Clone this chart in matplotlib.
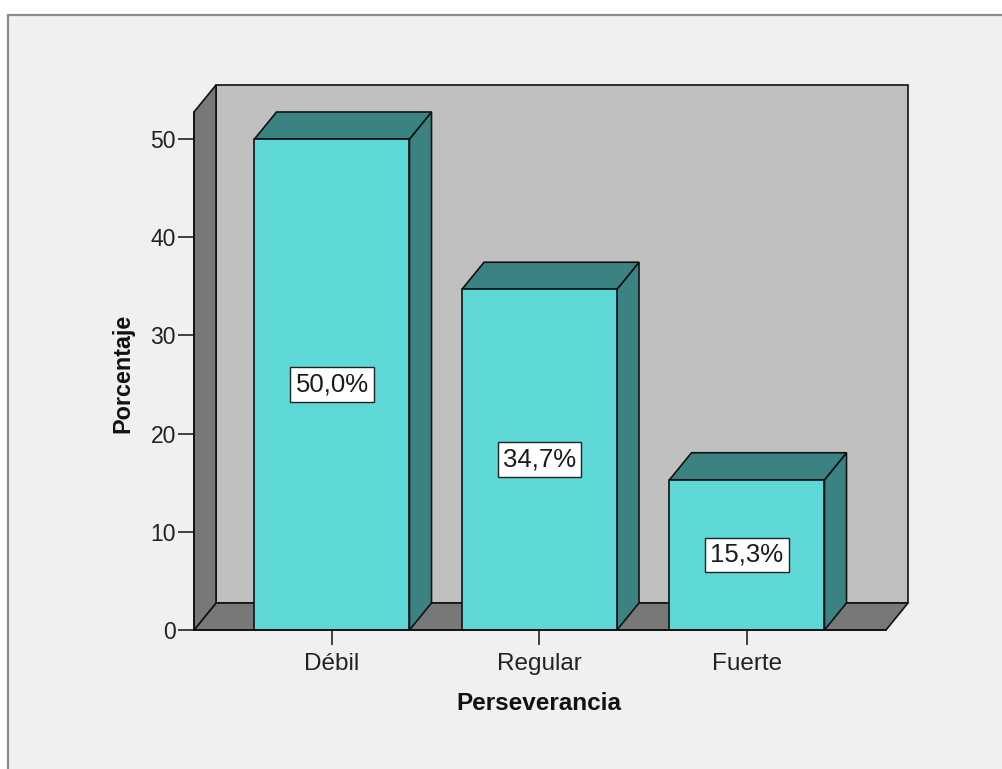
import matplotlib
matplotlib.use("Agg")
import matplotlib.pyplot as plt
from matplotlib.patches import Polygon, Rectangle

plt.rcParams['font.family'] = ['Liberation Sans', 'DejaVu Sans']

categories = ["Débil", "Regular", "Fuerte"]
percentages = [50.0, 34.7, 15.3]
value_labels = ["50,0%", "34,7%", "15,3%"]
y_ticks = [0, 10, 20, 30, 40, 50]

W, H = 1003, 769
fig = plt.figure(figsize=(W / 100, H / 100), dpi=100)
fig.patch.set_facecolor("white")

# Chart frame (grey panel with border at top and left)
fig.patches.append(Rectangle((8 / W, -0.05), 1.1, (H - 15) / H + 0.05,
                             transform=fig.transFigure, facecolor="#f0f0f0",
                             edgecolor="#8c8c8c", linewidth=1.6, zorder=-10))

# Plot area geometry
x_left_px, x_right_px = 194, 886
y0_px, y_top_val = 630, 52.75
px_per_unit = 9.82
ax_h_px = y_top_val * px_per_unit
ax = fig.add_axes([x_left_px / W, (H - y0_px) / H,
                   (x_right_px - x_left_px) / W, ax_h_px / H])
ax.set_facecolor("none")

cat_px = 207.5
xlim = (-138 / cat_px, 2 + 139 / cat_px)
ax.set_xlim(*xlim)
ax.set_ylim(0, y_top_val)

dx = 22 / cat_px          # depth offset in x (category units)
dy = 27 / px_per_unit     # depth offset in y (percent units)
bar_w = 155 / cat_px

edge = "#111111"
lw = 1.2
x0, x1 = xlim

# Back wall
ax.add_patch(Polygon([(x0 + dx, dy), (x1 + dx, dy), (x1 + dx, y_top_val + dy),
                      (x0 + dx, y_top_val + dy)], closed=True,
                     facecolor="#c0c0c0", edgecolor=edge, linewidth=lw,
                     clip_on=False, zorder=1))
# Floor
ax.add_patch(Polygon([(x0, 0), (x1, 0), (x1 + dx, dy), (x0 + dx, dy)], closed=True,
                     facecolor="#787878", edgecolor=edge, linewidth=lw,
                     clip_on=False, zorder=2))
# Left wall
ax.add_patch(Polygon([(x0, 0), (x0 + dx, dy), (x0 + dx, y_top_val + dy),
                      (x0, y_top_val)], closed=True,
                     facecolor="#787878", edgecolor=edge, linewidth=lw,
                     clip_on=False, zorder=2))

front = "#5ed7d7"
shade = "#3b8383"
for i, (v, lab) in enumerate(zip(percentages, value_labels)):
    l, r = i - bar_w / 2, i + bar_w / 2
    z = 3 + i
    # side face
    ax.add_patch(Polygon([(r, 0), (r + dx, dy), (r + dx, v + dy), (r, v)], closed=True,
                         facecolor=shade, edgecolor=edge, linewidth=lw,
                         clip_on=False, zorder=z))
    # top face
    ax.add_patch(Polygon([(l, v), (r, v), (r + dx, v + dy), (l + dx, v + dy)], closed=True,
                         facecolor=shade, edgecolor=edge, linewidth=lw,
                         clip_on=False, zorder=z))
    # front face
    ax.bar(i, v, width=bar_w, color=front, edgecolor=edge, linewidth=lw,
           zorder=z + 0.1, clip_on=False)
    ax.text(i, v / 2, lab, ha="center", va="center", fontsize=18.5, color="#1a1a1a",
            zorder=10,
            bbox=dict(boxstyle="square,pad=0.2", facecolor="white",
                      edgecolor="#222222", linewidth=1.0))

# Axes styling
for s in ["top", "right"]:
    ax.spines[s].set_visible(False)
for s in ["left", "bottom"]:
    ax.spines[s].set_color(edge)
    ax.spines[s].set_linewidth(lw)
    ax.spines[s].set_zorder(9)

ax.set_yticks(y_ticks)
ax.set_yticklabels([str(t) for t in y_ticks])
ax.set_xticks(range(len(categories)))
ax.set_xticklabels(categories)
ax.tick_params(axis="y", length=11.5, width=1.2, color="#222222", pad=1.5,
               labelsize=16.5, labelcolor="#222222")
ax.tick_params(axis="x", length=11, width=1.2, color="#222222", pad=5.5,
               labelsize=17.5, labelcolor="#222222")

fig.text(123 / W, 1 - 373 / H, "Porcentaje", rotation=90, ha="center", va="center",
         fontsize=16.8, fontweight="bold", color="#111111")
fig.text(539 / W, 1 - 703 / H, "Perseverancia", ha="center", va="center",
         fontsize=17.5, fontweight="bold", color="#111111")

fig.savefig("out.png", dpi=100, facecolor=fig.get_facecolor())
